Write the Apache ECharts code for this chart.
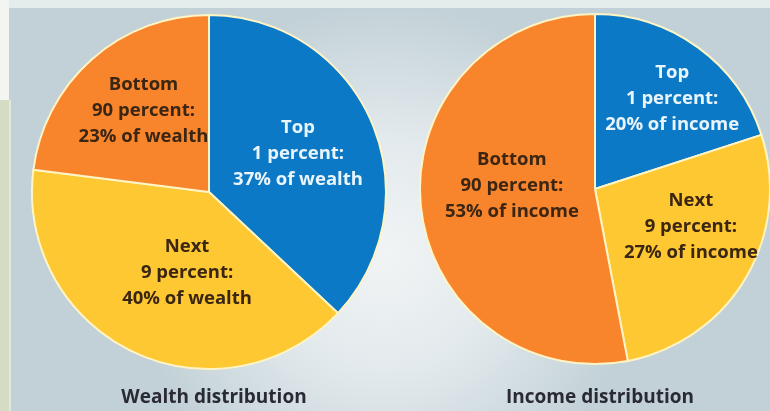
<!DOCTYPE html>
<html><head><meta charset="utf-8">
<script src="https://cdn.jsdelivr.net/npm/echarts@6/dist/echarts.min.js"></script>
<style>html,body{margin:0;padding:0;}#c{width:770px;height:411px;}</style>
</head><body><div id="c"></div>
<script>
// ---- data ----
const groups = ['Top\n1 percent', 'Next\n9 percent', 'Bottom\n90 percent'];
const wealthShare = [37, 40, 23];
const incomeShare = [20, 27, 53];
const chartTitles = ['Wealth distribution', 'Income distribution'];
const units = ['wealth', 'income'];

// ---- styles ----
const sliceColors = ['#0b79c5', '#fdc832', '#f8842c'];
const labelColors = ['#eaf4fb', '#3a2612', '#3a2612'];
const leftOffsets = [[5, -2], [17, -2], [-5, -13]];
const rightOffsets = [[24, -17], [18, -8], [7, -12]];

function buildData(values, offsets) {
  return groups.map((g, i) => ({
    name: g,
    value: values[i],
    itemStyle: { color: sliceColors[i] },
    label: { color: labelColors[i], offset: offsets[i] }
  }));
}

function pieSeries(values, unit, center, radius, offsets) {
  return {
    type: 'pie',
    center: center,
    radius: radius,
    startAngle: 90,
    clockwise: true,
    animation: false,
    silent: true,
    itemStyle: { borderColor: '#fff4c4', borderWidth: 2 },
    label: {
      show: true,
      position: 'inside',
      formatter: p => p.name + ':\n' + p.value + '% of ' + unit,
      fontFamily: 'Open Sans',
      fontWeight: 'bold',
      fontSize: 18.5,
      lineHeight: 26,
      align: 'center'
    },
    labelLine: { show: false },
    data: buildData(values, offsets)
  };
}

const chart = echarts.init(document.getElementById('c'), null, { renderer: 'canvas' });
chart.setOption({
  backgroundColor: '#c8d6dc',
  graphic: [
    { type: 'rect', z: -10, shape: { x: 0, y: 0, width: 770, height: 411 },
      style: { fill: { type: 'radial', x: 0.5, y: 0.62, r: 0.62,
        colorStops: [{ offset: 0, color: '#f1f4f5' }, { offset: 0.45, color: '#e3eaed' }, { offset: 1, color: '#c2d1d7' }] } } },
    { type: 'rect', z: -9, shape: { x: 0, y: 0, width: 770, height: 8 }, style: { fill: '#e5ecec' } },
    { type: 'rect', z: -9, shape: { x: 0, y: 0, width: 9, height: 100 }, style: { fill: '#f3f5f2' } },
    { type: 'rect', z: -9, shape: { x: 0, y: 100, width: 9, height: 311 }, style: { fill: '#d5dcc6' } },
    { type: 'rect', z: -9, shape: { x: 9, y: 100, width: 2, height: 311 }, style: { fill: '#e2e8dc' } }
  ],
  title: [
    { text: chartTitles[0], left: 209, top: 383, textAlign: 'center',
      textStyle: { fontFamily: 'Open Sans', fontWeight: 'bold', fontSize: 19, color: '#2a2a33' } },
    { text: chartTitles[1], left: 595, top: 383, textAlign: 'center',
      textStyle: { fontFamily: 'Open Sans', fontWeight: 'bold', fontSize: 19, color: '#2a2a33' } }
  ],
  series: [
    pieSeries(wealthShare, units[0], [209, 192], 177, leftOffsets),
    pieSeries(incomeShare, units[1], [595, 189], 175, rightOffsets)
  ]
});
</script></body></html>
